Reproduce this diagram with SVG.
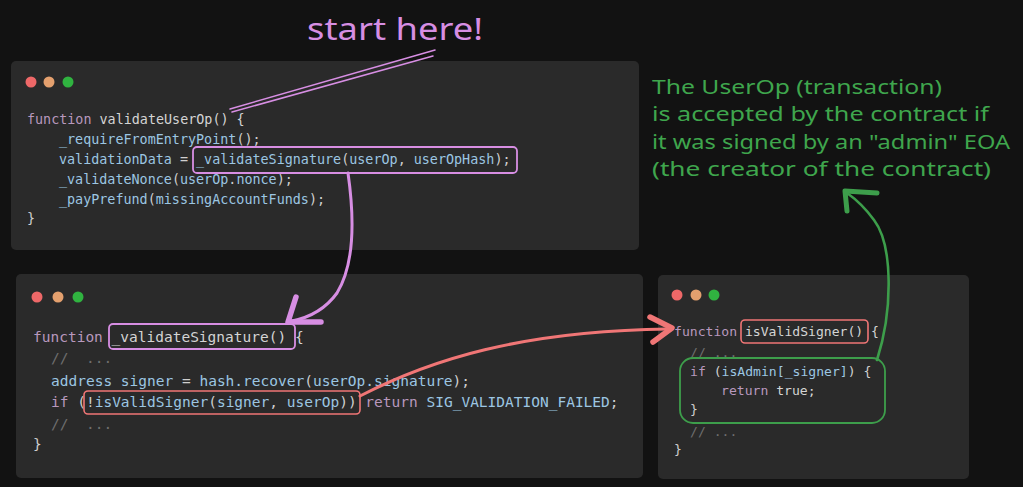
<svg xmlns="http://www.w3.org/2000/svg" width="1023" height="487" viewBox="0 0 1023 487">
<style>
.panel{fill:#2a2a2a}
.code{font-family:"DejaVu Sans Mono","Liberation Mono",monospace}
.kw{fill:#b898bd}
.fn{fill:#d4d4d4}
.id{fill:#9cc6e2}
.p{fill:#cfcfcf}
.cm{fill:#6e6e6e}
.hand{font-family:"Noto Sans","Liberation Sans",sans-serif}
.pu{stroke:#d78ee3;fill:none;stroke-linecap:round;stroke-linejoin:round}
.rd{stroke:#f07676;fill:none;stroke-linecap:round;stroke-linejoin:round}
.gr{stroke:#3d9e4b;fill:none;stroke-linecap:round;stroke-linejoin:round}
</style>
<rect width="1023" height="487" fill="#121212"/>

<g id="panel-validateUserOp">
<rect class="panel" x="11" y="61" width="628" height="189" rx="5"/>
<circle cx="31" cy="82" r="5.5" fill="#ee6868"/>
<circle cx="49" cy="82" r="5.5" fill="#e4a06e"/>
<circle cx="68" cy="82" r="5.5" fill="#30b340"/>
<g class="code" font-size="13.4">
<text x="27" y="124" xml:space="preserve"><tspan class="kw">function</tspan><tspan class="fn"> validateUserOp() {</tspan></text>
<text x="59" y="144" xml:space="preserve"><tspan class="id">_requireFromEntryPoint</tspan><tspan class="p">();</tspan></text>
<text x="59" y="164" xml:space="preserve"><tspan class="id">validationData</tspan><tspan class="p"> = </tspan><tspan class="id">_validateSignature</tspan><tspan class="p">(</tspan><tspan class="id">userOp</tspan><tspan class="p">, </tspan><tspan class="id">userOpHash</tspan><tspan class="p">);</tspan></text>
<text x="59" y="184" xml:space="preserve"><tspan class="id">_validateNonce</tspan><tspan class="p">(</tspan><tspan class="id">userOp</tspan><tspan class="p">.</tspan><tspan class="id">nonce</tspan><tspan class="p">);</tspan></text>
<text x="59" y="204" xml:space="preserve"><tspan class="id">_payPrefund</tspan><tspan class="p">(</tspan><tspan class="id">missingAccountFunds</tspan><tspan class="p">);</tspan></text>
<text x="27" y="223" class="p">}</text>
</g>
<rect class="pu" x="193" y="147" width="324" height="26" rx="4" stroke-width="1.8"/>
</g>

<g id="panel-validateSignature">
<rect class="panel" x="16" y="274" width="627" height="204" rx="5"/>
<circle cx="37" cy="297" r="5.5" fill="#ee6868"/>
<circle cx="58" cy="297" r="5.5" fill="#e4a06e"/>
<circle cx="78" cy="297" r="5.5" fill="#30b340"/>
<g class="code" font-size="14.5">
<text x="33" y="342" xml:space="preserve"><tspan class="kw">function</tspan><tspan class="fn"> _validateSignature() {</tspan></text>
<text x="51" y="363" xml:space="preserve" class="cm">//  ...</text>
<text x="51" y="386" xml:space="preserve"><tspan class="id">address signer</tspan><tspan class="p"> = </tspan><tspan class="id">hash.recover</tspan><tspan class="p">(</tspan><tspan class="id">userOp.signature</tspan><tspan class="p">);</tspan></text>
<text x="51" y="407" xml:space="preserve"><tspan class="kw">if</tspan><tspan class="p"> (!</tspan><tspan class="id">isValidSigner</tspan><tspan class="p">(</tspan><tspan class="id">signer</tspan><tspan class="p">, </tspan><tspan class="id">userOp</tspan><tspan class="p">)) </tspan><tspan class="kw">return</tspan><tspan class="p"> </tspan><tspan class="id">SIG_VALIDATION_FAILED</tspan><tspan class="p">;</tspan></text>
<text x="51" y="429" xml:space="preserve" class="cm">//  ...</text>
<text x="33" y="449" class="p">}</text>
</g>
<rect class="pu" x="109" y="324" width="186" height="25" rx="4" stroke-width="1.8"/>
<rect class="rd" x="84" y="391" width="276" height="23" rx="4" stroke-width="1.6"/>
</g>

<g id="panel-isValidSigner">
<rect class="panel" x="658" y="275" width="311" height="204" rx="5"/>
<circle cx="677" cy="295" r="5.5" fill="#ee6868"/>
<circle cx="696" cy="295" r="5.5" fill="#e4a06e"/>
<circle cx="714" cy="295" r="5.5" fill="#30b340"/>
<g class="code" font-size="13.1">
<text x="674" y="336" xml:space="preserve"><tspan class="kw">function</tspan><tspan class="fn"> isValidSigner() {</tspan></text>
<text x="690" y="357" xml:space="preserve" class="cm">// ...</text>
<text x="690" y="376" xml:space="preserve"><tspan class="kw">if</tspan><tspan class="p"> (</tspan><tspan class="id">isAdmin[_signer]</tspan><tspan class="p">) {</tspan></text>
<text x="721" y="395" xml:space="preserve"><tspan class="kw">return</tspan><tspan class="fn"> true;</tspan></text>
<text x="690" y="414" class="p">}</text>
<text x="690" y="436" xml:space="preserve" class="cm">// ...</text>
<text x="674" y="454" class="p">}</text>
</g>
<rect class="rd" x="741" y="320" width="127" height="23" rx="4" stroke-width="1.6"/>
<rect class="gr" x="680" y="358" width="205" height="65" rx="13" stroke-width="1.8"/>
</g>

<g id="note-start">
<text class="hand" x="307" y="40" font-size="30" fill="#d78ee3" textLength="176" lengthAdjust="spacingAndGlyphs">start here!</text>
</g>

<g id="note-admin" class="hand" font-size="20" fill="#3fa64d">
<text x="652" y="94" textLength="290" lengthAdjust="spacingAndGlyphs">The UserOp (transaction)</text>
<text x="652" y="121" textLength="337" lengthAdjust="spacingAndGlyphs">is accepted by the contract if</text>
<text x="652" y="149" textLength="358" lengthAdjust="spacingAndGlyphs">it was signed by an "admin" EOA</text>
<text x="652" y="176" textLength="339" lengthAdjust="spacingAndGlyphs">(the creator of the contract)</text>
</g>

<g id="connectors">
<path class="pu" stroke-width="1.5" d="M230,109 L435,50 M232,112 L433,56"/>
<path class="pu" stroke-width="3" d="M348,173 C354,215 356,262 337,293 C324,311 307,318 292,321"/>
<path class="pu" stroke-width="5.5" d="M296,297 L288,322 L321,322"/>
<path class="rd" stroke-width="3" d="M360,396 C430,360 520,331 668,329"/>
<path class="rd" stroke-width="5.5" d="M650,317 L672,328 L653,342"/>
<path class="gr" stroke-width="2.6" d="M877,360 C893,310 893,245 874,220 C866,209 857,200 847,193"/>
<path class="gr" stroke-width="5" d="M847,211 L845,191 L877,193"/>
</g>
</svg>
